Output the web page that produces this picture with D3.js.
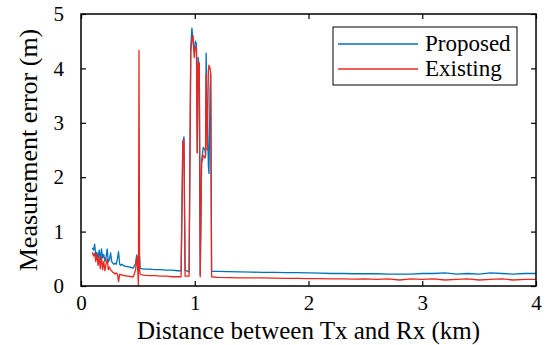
<!DOCTYPE html>
<html>
<head>
<meta charset="utf-8">
<script src="https://cdn.jsdelivr.net/npm/d3@7"></script>
<style>
  body { margin: 0; background: #fff; }
  svg { display: block; font-family: "Liberation Serif", "Times New Roman", serif; }
  .frame { fill: none; stroke: #000; stroke-width: 1.5; }
  .tick line { stroke: #000; stroke-width: 1.2; }
  .domain { display: none; }
  .series { fill: none; stroke-width: 1.3; stroke-linejoin: round; }
</style>
</head>
<body>
<div id="chart"></div>
<script>
// distance between Tx and Rx (km), shared by both series
var distKm = [
  0.10, 0.11, 0.12, 0.13, 0.14, 0.15, 0.16, 0.17, 0.18, 0.19,
  0.20, 0.21, 0.22, 0.23, 0.24, 0.25, 0.26, 0.27, 0.28, 0.29,
  0.30, 0.31, 0.32, 0.33, 0.34, 0.35, 0.36, 0.37, 0.38, 0.39,
  0.40, 0.42, 0.44, 0.46, 0.48, 0.49, 0.50, 0.505, 0.51, 0.515,
  0.52, 0.53, 0.55, 0.60, 0.65, 0.70, 0.75, 0.80, 0.85, 0.88,
  0.895, 0.905, 0.915, 0.95, 0.965, 0.975, 0.985, 0.995, 1.005, 1.015,
  1.022, 1.03, 1.04, 1.048, 1.06, 1.075, 1.09, 1.095, 1.10, 1.11,
  1.12, 1.125, 1.135, 1.14, 1.148, 1.2, 1.3, 1.4, 1.5, 1.6,
  1.7, 1.8, 1.9, 2.0, 2.1, 2.2, 2.3, 2.4, 2.5, 2.6,
  2.7, 2.8, 2.9, 3.0, 3.1, 3.2, 3.3, 3.4, 3.5, 3.6,
  3.7, 3.8, 3.9, 4.0
];

// measurement error (m)
var proposed = [
  0.70, 0.66, 0.77, 0.55, 0.62, 0.50, 0.66, 0.48, 0.68, 0.52,
  0.58, 0.45, 0.52, 0.68, 0.44, 0.48, 0.61, 0.45, 0.42, 0.40,
  0.42, 0.40, 0.50, 0.63, 0.40, 0.38, 0.40, 0.38, 0.37, 0.36,
  0.36, 0.35, 0.34, 0.33, 0.42, 0.57, 0.35, 0.55, 0.40, 0.55,
  0.33, 0.32, 0.31, 0.31, 0.30, 0.30, 0.29, 0.29, 0.28, 0.28,
  2.65, 2.74, 0.29, 0.26, 4.40, 4.74, 4.50, 4.30, 4.50, 4.45,
  2.45, 4.20, 4.00, 0.20, 2.30, 2.55, 2.50, 2.40, 4.28, 3.20,
  2.20, 2.07, 3.60, 3.90, 0.27, 0.27, 0.265, 0.26, 0.255, 0.25,
  0.25, 0.245, 0.245, 0.24, 0.235, 0.23, 0.23, 0.225, 0.225, 0.225,
  0.22, 0.22, 0.22, 0.23, 0.23, 0.24, 0.22, 0.23, 0.22, 0.24,
  0.23, 0.22, 0.23, 0.23
];

var existing = [
  0.62, 0.55, 0.60, 0.45, 0.58, 0.38, 0.52, 0.32, 0.55, 0.30,
  0.45, 0.28, 0.40, 0.50, 0.30, 0.35, 0.30, 0.28, 0.25, 0.24,
  0.22, 0.24, 0.22, 0.08, 0.22, 0.21, 0.20, 0.20, 0.19, 0.19,
  0.18, 0.18, 0.17, 0.17, 0.30, 0.54, 0.25, 0.00, 4.33, 0.30,
  0.22, 0.21, 0.20, 0.19, 0.19, 0.18, 0.18, 0.17, 0.17, 0.17,
  2.60, 2.70, 0.18, 0.18, 4.30, 4.55, 4.60, 4.20, 4.40, 4.35,
  2.45, 4.10, 4.10, 0.17, 2.25, 2.40, 2.35, 2.40, 3.90, 2.50,
  3.95, 4.06, 4.00, 3.90, 0.17, 0.16, 0.155, 0.15, 0.15, 0.15,
  0.145, 0.14, 0.14, 0.135, 0.135, 0.13, 0.13, 0.125, 0.13, 0.12,
  0.13, 0.11, 0.13, 0.12, 0.13, 0.11, 0.12, 0.13, 0.11, 0.12,
  0.13, 0.11, 0.12, 0.12
];

var seriesNames = [ "Proposed", "Existing" ];
var seriesColors = [ "#0072bd", "#e8281f" ];
var xTicks = [ 0, 1, 2, 3, 4 ];
var yTicks = [ 0, 1, 2, 3, 4, 5 ];

var width = 545;
var height = 345;
var margin = { top: 14, right: 9, bottom: 59, left: 81 };

var svg = d3.select( "#chart" ).append( "svg" )
  .attr( "width", width )
  .attr( "height", height );

var x = d3.scaleLinear().domain( [0, 4] ).range( [margin.left, width - margin.right] );
var y = d3.scaleLinear().domain( [0, 5] ).range( [height - margin.bottom, margin.top] );

var line = d3.line()
  .x( function ( d, i ) { return x( distKm[i] ); } )
  .y( function ( d ) { return y( d ); } );

// plot area clip so nothing spills over the frame
svg.append( "clipPath" ).attr( "id", "plotClip" )
  .append( "rect" )
  .attr( "x", x( 0 ) ).attr( "y", y( 5 ) )
  .attr( "width", x( 4 ) - x( 0 ) ).attr( "height", y( 0 ) - y( 5 ) );

var plot = svg.append( "g" ).attr( "clip-path", "url(#plotClip)" );

[proposed, existing].forEach( function ( s, k ) {
  plot.append( "path" )
    .attr( "class", "series" )
    .attr( "stroke", seriesColors[k] )
    .attr( "d", line( s ) );
} );

// axes, ticks pointing inwards and mirrored on top/right
var tickLen = 5;
svg.append( "g" )
  .attr( "transform", "translate(0," + y( 0 ) + ")" )
  .call( d3.axisBottom( x ).tickValues( xTicks ).tickSize( -tickLen ).tickPadding( 9 ).tickFormat( d3.format( "d" ) ) )
  .selectAll( "text" ).style( "font-size", "21px" ).attr( "fill", "#000" );

svg.append( "g" )
  .attr( "transform", "translate(0," + y( 5 ) + ")" )
  .call( d3.axisTop( x ).tickValues( xTicks ).tickSize( -tickLen ).tickFormat( "" ) );

svg.append( "g" )
  .attr( "transform", "translate(" + x( 0 ) + ",0)" )
  .call( d3.axisLeft( y ).tickValues( yTicks ).tickSize( -tickLen ).tickPadding( 17 ).tickFormat( d3.format( "d" ) ) )
  .selectAll( "text" ).style( "font-size", "21px" ).attr( "fill", "#000" );

svg.append( "g" )
  .attr( "transform", "translate(" + x( 4 ) + ",0)" )
  .call( d3.axisRight( y ).tickValues( yTicks ).tickSize( -tickLen ).tickFormat( "" ) );

svg.selectAll( ".tick text" ).attr( "font-family", "Liberation Serif" );

svg.append( "rect" )
  .attr( "class", "frame" )
  .attr( "x", x( 0 ) ).attr( "y", y( 5 ) )
  .attr( "width", x( 4 ) - x( 0 ) ).attr( "height", y( 0 ) - y( 5 ) );

// axis labels
svg.append( "text" )
  .attr( "x", ( x( 0 ) + x( 4 ) ) / 2 )
  .attr( "y", height - 6 )
  .attr( "text-anchor", "middle" )
  .style( "font-size", "25px" )
  .text( "Distance between Tx and Rx (km)" );

svg.append( "text" )
  .attr( "transform", "translate(37," + ( ( y( 0 ) + y( 5 ) ) / 2 ) + ") rotate(-90)" )
  .attr( "text-anchor", "middle" )
  .style( "font-size", "26px" )
  .text( "Measurement error (m)" );

// legend
var lg = svg.append( "g" ).attr( "transform", "translate(333,27)" );
lg.append( "rect" )
  .attr( "width", 184 ).attr( "height", 58 )
  .attr( "fill", "#fff" ).attr( "stroke", "#000" ).attr( "stroke-width", 1 );

seriesNames.forEach( function ( name, k ) {
  var ly = 17 + k * 25;
  lg.append( "line" )
    .attr( "x1", 5 ).attr( "x2", 85 )
    .attr( "y1", ly ).attr( "y2", ly )
    .attr( "stroke", seriesColors[k] ).attr( "stroke-width", 1.3 );
  lg.append( "text" )
    .attr( "x", 92 ).attr( "y", ly + 7 )
    .style( "font-size", "23px" )
    .text( name );
} );
</script>
</body>
</html>
